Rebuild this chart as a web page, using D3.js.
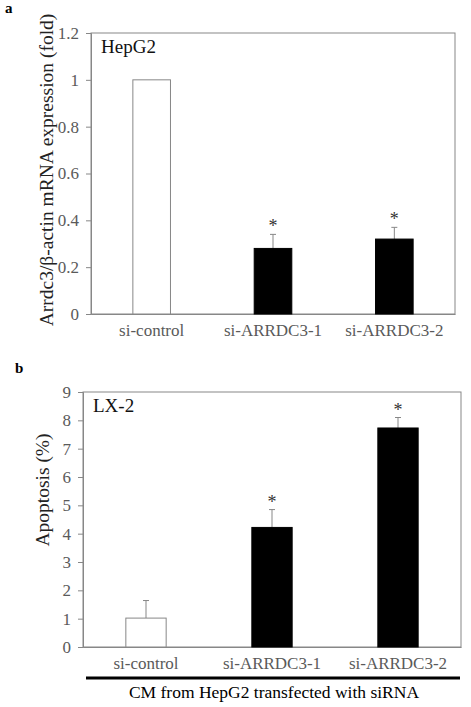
<!DOCTYPE html>
<html><head><meta charset="utf-8">
<script src="https://cdn.jsdelivr.net/npm/d3@7"></script>
<style>body{margin:0;background:#fff}svg{display:block}svg text{font-family:"Liberation Serif","Times New Roman",serif !important}</style>
</head><body><svg id="c" width="471" height="707" font-family="Liberation Serif"></svg>
<script>
const categories = ["si-control", "si-ARRDC3-1", "si-ARRDC3-2"];
const mrnaValues = [1.0, 0.28, 0.32];
const mrnaErrors = [0.0, 0.06, 0.05];
const mrnaSig = [false, true, true];
const mrnaTicks = [0, 0.2, 0.4, 0.6, 0.8, 1, 1.2];
const apoValues = [1.02, 4.22, 7.73];
const apoErrors = [0.62, 0.63, 0.37];
const apoSig = [false, true, true];
const apoTicks = [0, 1, 2, 3, 4, 5, 6, 7, 8, 9];
const barFill = ["#ffffff", "#000000", "#000000"];

const svg = d3.select("#c");
const axisColor = "#878787";
const tickText = "#5a5a5a";
const serif = "Liberation Serif";

function panel(o) {
  const g = svg.append("g");
  const x = d3.scaleBand().domain(categories).range([o.left, o.right]).paddingInner(o.pad).paddingOuter(o.pad/2);
  const y = d3.scaleLinear().domain([0, o.max]).range([o.bottom, o.top]);
  g.append("rect").attr("x", o.left).attr("y", o.top).attr("width", o.right - o.left).attr("height", o.bottom - o.top)
    .attr("fill", "none").attr("stroke", axisColor).attr("stroke-width", 1);
  const ya = d3.axisLeft(y).tickValues(o.ticks).tickSize(5).tickPadding(7).tickFormat(d => String(d));
  const yg = g.append("g").attr("transform", `translate(${o.left},0)`).call(ya).attr("font-family", serif);
  yg.select(".domain").attr("stroke", axisColor);
  yg.selectAll(".tick line").attr("stroke", axisColor);
  yg.selectAll(".tick text").attr("fill", tickText).attr("font-family", serif).style("font-size", "17px");
  const xa = d3.axisBottom(x).tickSize(0).tickPadding(10);
  const xg = g.append("g").attr("transform", `translate(0,${o.bottom})`).call(xa).attr("font-family", serif);
  xg.select(".domain").attr("stroke", axisColor);
  xg.selectAll(".tick text").attr("fill", tickText).attr("font-family", serif).style("font-size", "17px");
  const bw = x.bandwidth();
  categories.forEach((c, i) => {
    const cx = x(c) + bw / 2;
    if (o.errors[i] > 0) {
      const yt = y(o.values[i] + o.errors[i]);
      g.append("line").attr("x1", cx).attr("x2", cx).attr("y1", y(o.values[i])).attr("y2", yt)
        .attr("stroke", axisColor).attr("stroke-width", 1);
      g.append("line").attr("x1", cx - 3).attr("x2", cx + 3).attr("y1", yt).attr("y2", yt)
        .attr("stroke", axisColor).attr("stroke-width", 1);
    }
  });
  g.selectAll("rect.bar").data(categories).join("rect").attr("class", "bar")
    .attr("x", d => x(d)).attr("width", bw)
    .attr("y", (d, i) => y(o.values[i])).attr("height", (d, i) => o.bottom - y(o.values[i]))
    .attr("fill", (d, i) => barFill[i]).attr("stroke", (d, i) => i === 0 ? axisColor : "#000").attr("stroke-width", 1);
  categories.forEach((c, i) => {
    if (o.sig[i]) {
      g.append("text").attr("x", x(c) + bw / 2).attr("y", y(o.values[i] + o.errors[i]) - 2)
        .attr("text-anchor", "middle").attr("fill", "#333").attr("font-family", serif).style("font-size", "18px").text("*");
    }
  });
  g.append("text").attr("x", o.left + 10).attr("y", o.top + 20).attr("fill", "#111").attr("font-family", serif)
    .style("font-size", "19px").text(o.label);
  g.append("text").attr("transform", `translate(${o.titleX},${o.titleY}) rotate(-90)`)
    .attr("text-anchor", "middle").attr("fill", "#222").attr("font-family", serif).style("font-size", "19.5px").text(o.ytitle);
  svg.append("text").attr("x", o.letterX).attr("y", o.letterY).attr("fill", "#000").attr("font-family", serif)
    .style("font-size", "15px").style("font-weight", "bold").text(o.letter);
  return { x, y };
}

panel({ left: 91, right: 455, top: 33, bottom: 314, max: 1.2, pad: 0.69, ticks: mrnaTicks,
  values: mrnaValues, errors: mrnaErrors, sig: mrnaSig, label: "HepG2",
  ytitle: "Arrdc3/\u03b2-actin mRNA expression (fold)", titleX: 53, titleY: 170, letter: "a", letterX: 5, letterY: 13 });
panel({ left: 83, right: 461, top: 392, bottom: 647, max: 9, pad: 0.68, ticks: apoTicks,
  values: apoValues, errors: apoErrors, sig: apoSig, label: "LX-2",
  ytitle: "Apoptosis (%)", titleX: 49, titleY: 490, letter: "b", letterX: 15, letterY: 373 });

svg.append("line").attr("x1", 86).attr("x2", 460).attr("y1", 678).attr("y2", 678).attr("stroke", "#000").attr("stroke-width", 3);
svg.append("text").attr("x", 274).attr("y", 698).attr("text-anchor", "middle").attr("fill", "#000").attr("font-family", serif)
  .style("font-size", "17.5px").text("CM from HepG2 transfected with siRNA");
</script></body></html>
